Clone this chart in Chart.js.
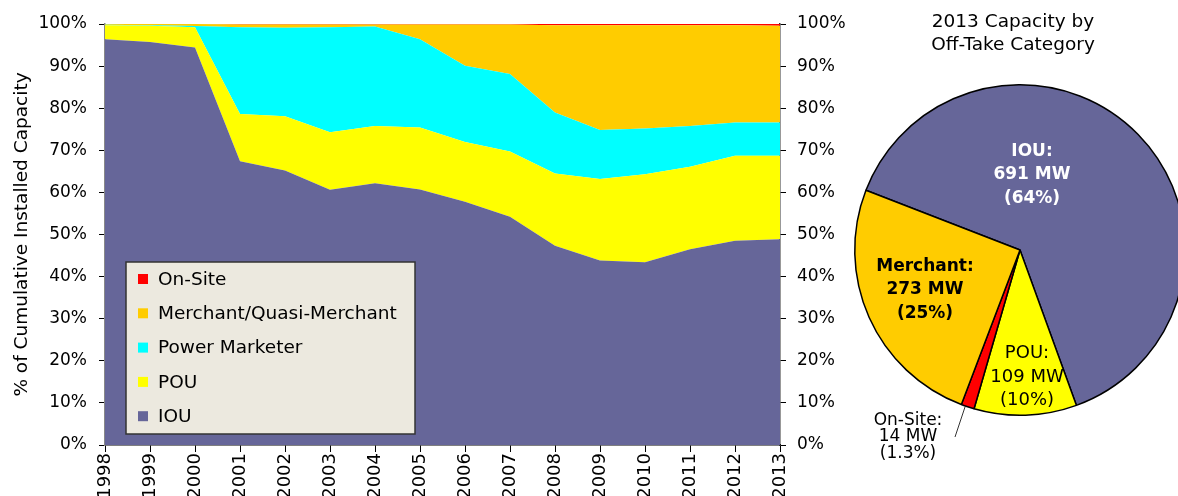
<!DOCTYPE html>
<html>
<head>
	<title></title>
	<style>
		body { margin: 0; width: 1178px; height: 496px; overflow: hidden; background: #fff; position: relative; }
		#areaChart { position: absolute; left: 0; top: 0; }
		#pieChart { position: absolute; left: 840px; top: 0; }
	</style>
</head>
<body>
<canvas id="areaChart" width="845" height="496"></canvas>
<canvas id="pieChart" width="360" height="496"></canvas>
<script type="text/javascript" src="https://cdn.jsdelivr.net/npm/chart.js@4.4.0/dist/chart.umd.min.js"></script>
<script>
// data (% of cumulative installed capacity)
var YEARS = ['1998','1999','2000','2001','2002','2003','2004','2005','2006','2007','2008','2009','2010','2011','2012','2013'];
var IOU      = [96.4, 95.7, 94.4, 67.4, 65.2, 60.6, 62.2, 60.7, 57.8, 54.2, 47.3, 43.8, 43.4, 46.5, 48.5, 48.9];
var POU      = [3.3, 3.9, 4.8, 11.2, 12.9, 13.7, 13.6, 14.7, 14.2, 15.5, 17.2, 19.4, 20.9, 19.6, 20.2, 19.8];
var MARKETER = [0.1, 0.1, 0.3, 20.6, 21.0, 24.9, 23.6, 21.0, 18.1, 18.4, 14.5, 11.6, 10.9, 9.7, 7.9, 7.9];
var MERCHANT = [0.2, 0.3, 0.5, 0.7, 0.8, 0.7, 0.5, 3.5, 9.8, 11.8, 20.7, 24.9, 24.5, 23.9, 23.1, 23.0];
var ONSITE   = [0.0, 0.0, 0.0, 0.1, 0.1, 0.1, 0.1, 0.1, 0.1, 0.1, 0.3, 0.3, 0.3, 0.3, 0.3, 0.4];
var Y_TICKS  = [0, 10, 20, 30, 40, 50, 60, 70, 80, 90, 100];

// 2013 pie (MW)
var PIE_LABELS = ['IOU', 'POU', 'On-Site', 'Merchant'];
var PIE_MW     = [691, 109, 14, 273];

Chart.defaults.font.family = "'DejaVu Sans', sans-serif";
Chart.defaults.color = '#000';

var COLORS = { iou: '#666699', pou: '#ffff00', pm: '#00ffff', merch: '#ffcc00', onsite: '#ff0000' };

function areaSet(label, data, color, fill) {
	return {
		label: label, data: data, backgroundColor: color, borderColor: color,
		borderWidth: 0, pointRadius: 0, fill: fill, tension: 0, yAxisID: 'y'
	};
}

// legend box inside the plot
var boxLegend = {
	id: 'boxLegend',
	afterDraw: function(chart) {
		var ctx = chart.ctx;
		var x = 126, y = 262, w = 289, h = 172;
		ctx.save();
		ctx.fillStyle = '#ece9df';
		ctx.strokeStyle = '#333';
		ctx.lineWidth = 1.5;
		ctx.fillRect(x, y, w, h);
		ctx.strokeRect(x, y, w, h);
		var sets = chart.data.datasets.slice().reverse();
		ctx.font = "18.5px 'DejaVu Sans'";
		ctx.textBaseline = 'middle';
		for (var i = 0; i < sets.length; i++) {
			var cy = 279 + i * 34.3;
			ctx.fillStyle = sets[i].backgroundColor;
			ctx.fillRect(138, cy - 5, 10, 10);
			ctx.fillStyle = '#000';
			ctx.fillText(sets[i].label, 158, cy + 1);
		}
		ctx.restore();
	}
};

var ctxA = document.getElementById('areaChart').getContext('2d');
var areaChart = new Chart(ctxA, {
	type: 'line',
	data: {
		labels: YEARS,
		datasets: [
			areaSet('IOU', IOU, COLORS.iou, 'origin'),
			areaSet('POU', POU, COLORS.pou, '-1'),
			areaSet('Power Marketer', MARKETER, COLORS.pm, '-1'),
			areaSet('Merchant/Quasi-Merchant', MERCHANT, COLORS.merch, '-1'),
			areaSet('On-Site', ONSITE, COLORS.onsite, '-1')
		]
	},
	options: {
		responsive: false,
		animation: false,
		layout: { padding: { top: 24 } },
		plugins: { legend: { display: false }, tooltip: { enabled: false } },
		scales: {
			x: {
				offset: false,
				grid: { drawOnChartArea: false, tickLength: 7, color: '#000' },
				border: { color: '#000', width: 1.5 },
				ticks: { minRotation: 90, maxRotation: 90, autoSkip: false, padding: 1, font: { size: 18 } },
				afterFit: function(s) { s.height = 51; }
			},
			y: {
				stacked: true, min: 0, max: 100,
				afterBuildTicks: function(s) { s.ticks = Y_TICKS.map(function(v) { return { value: v }; }); },
				grid: { drawOnChartArea: false, tickLength: 6, color: '#000' },
				border: { color: '#888', width: 1.5 },
				ticks: { padding: 12, font: { size: 17 }, callback: function(v) { return v + '%'; } },
				title: { display: true, text: '% of Cumulative Installed Capacity', font: { size: 18.5 }, padding: { top: 11 } },
				afterFit: function(s) { s.width = 105; }
			},
			y2: {
				position: 'right', min: 0, max: 100,
				afterBuildTicks: function(s) { s.ticks = Y_TICKS.map(function(v) { return { value: v }; }); },
				grid: { drawOnChartArea: false, tickLength: 6, color: '#000' },
				border: { color: '#333', width: 1.5 },
				ticks: { padding: 11, font: { size: 17 }, callback: function(v) { return v + '%'; } },
				afterFit: function(s) { s.width = 65; }
			}
		}
	},
	plugins: [boxLegend]
});

// title and slice labels for the pie
var pieText = {
	id: 'pieText',
	afterDraw: function(chart) {
		var ctx = chart.ctx;
		var arc = chart.getDatasetMeta(0).data[0];
		var cx = arc.x, cy = arc.y;
		var total = PIE_MW.reduce(function(a, b) { return a + b; }, 0);
		ctx.save();
		ctx.textAlign = 'center';
		ctx.textBaseline = 'middle';
		ctx.fillStyle = '#000';
		ctx.font = "18.5px 'DejaVu Sans'";
		ctx.fillText('2013 Capacity by', cx - 7, 22);
		ctx.fillText('Off-Take Category', cx - 7, 45);

		// label offsets from the pie centre
		var spots = {
			'IOU':      { dx: 12,   dy: -75, color: '#fff', font: "bold 17px 'DejaVu Sans'", lh: 23.5 },
			'POU':      { dx: 7,    dy: 127, color: '#000', font: "18px 'DejaVu Sans'", lh: 23.5 },
			'On-Site':  { dx: -112, dy: 187, color: '#000', font: "17px 'DejaVu Sans'", lh: 16.5 },
			'Merchant': { dx: -95,  dy: 40,  color: '#000', font: "bold 17px 'DejaVu Sans'", lh: 23.5 }
		};
		for (var i = 0; i < PIE_LABELS.length; i++) {
			var name = PIE_LABELS[i];
			var pct = PIE_MW[i] / total * 100;
			var pctTxt = pct < 2 ? pct.toFixed(1) : Math.round(pct).toString();
			var lines = [name + ':', PIE_MW[i] + ' MW', '(' + pctTxt + '%)'];
			var s = spots[name];
			ctx.fillStyle = s.color;
			ctx.font = s.font;
			for (var j = 0; j < 3; j++) {
				ctx.fillText(lines[j], cx + s.dx, cy + s.dy + (j - 1) * s.lh);
			}
		}
		// leader for the small slice
		ctx.strokeStyle = '#333';
		ctx.lineWidth = 1;
		ctx.beginPath();
		ctx.moveTo(cx - 65, cy + 187);
		ctx.lineTo(cx - 55, cy + 157);
		ctx.stroke();
		ctx.restore();
	}
};

var ctxP = document.getElementById('pieChart').getContext('2d');
var pieChart = new Chart(ctxP, {
	type: 'pie',
	data: {
		labels: PIE_LABELS,
		datasets: [{
			data: PIE_MW,
			backgroundColor: [COLORS.iou, COLORS.pou, COLORS.onsite, COLORS.merch],
			borderColor: '#000',
			borderWidth: 1.5
		}]
	},
	options: {
		responsive: false,
		animation: false,
		rotation: 291.2,
		layout: { padding: { top: 84, bottom: 80, left: 14, right: 14 } },
		plugins: { legend: { display: false }, tooltip: { enabled: false } }
	},
	plugins: [pieText]
});
</script>
</body>
</html>
